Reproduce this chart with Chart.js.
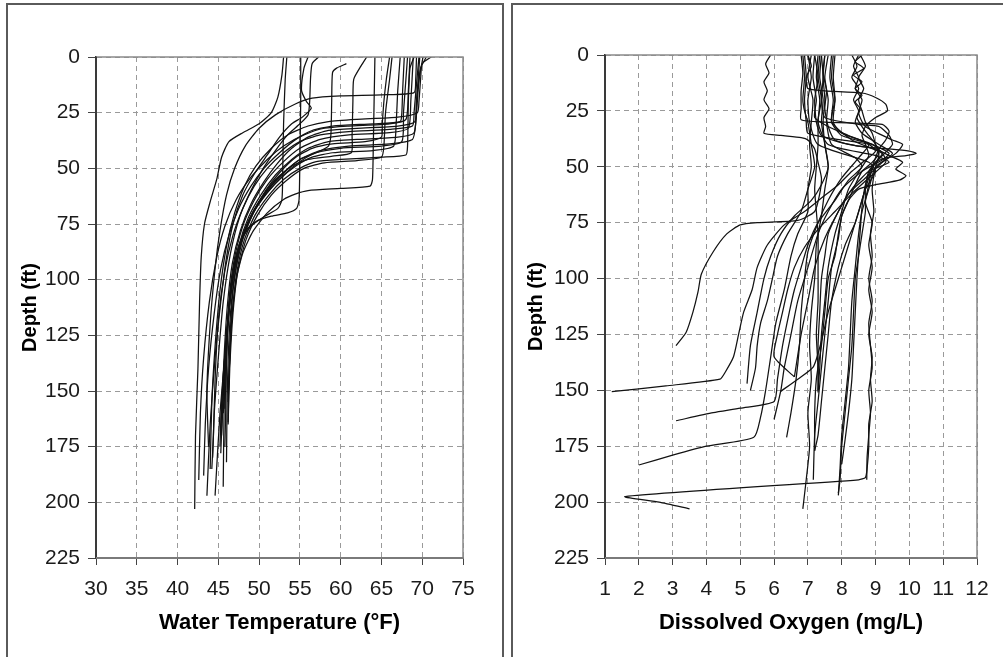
<!DOCTYPE html>
<html>
<head>
<meta charset="utf-8">
<script src="https://cdn.jsdelivr.net/npm/chart.js@4/dist/chart.umd.min.js"></script>
<style>
  html, body { margin: 0; padding: 0; background: #ffffff; width: 1003px; height: 657px; overflow: hidden; }
  .frame { position: absolute; border: 2px solid #5a5a5a; box-sizing: border-box; }
  .wrap { position: absolute; }
</style>
</head>
<body>
<div class="frame" style="left:6px; top:3px; width:498px; height:720px;"></div>
<div class="frame" style="left:511px; top:3px; width:560px; height:720px;"></div>
<div class="wrap" style="left:8px; top:5px; width:494px; height:650px;"><canvas id="tempChart" width="494" height="650"></canvas></div>
<div class="wrap" style="left:514px; top:5px; width:489px; height:650px;"><canvas id="doChart" width="489" height="650"></canvas></div>
<script>
// ---------- Axis settings (values) ----------
const depthMin = 0, depthMax = 225, depthStep = 25;
const tempMin = 30, tempMax = 75, tempStep = 5;
const doMin = 1, doMax = 12, doStep = 1;
const tempAxisTitle = "Water Temperature (°F)";
const doAxisTitle = "Dissolved Oxygen (mg/L)";
const depthAxisTitle = "Depth (ft)";

// ---------- Water temperature profiles: [depth ft, temperature °F] ----------
const tp01 = [[0,53.0],[8,52.8],[18,52.3],[25,51.5],[30,50],[34,48],[38,46.3],[45,45.4],[55,44.8],[65,44],[75,43.3],[90,42.9],[110,42.7],[140,42.5],[170,42.2],[203,42.1]];
const tp02 = [[0,53.4],[10,53.2],[30,53.0],[50,52.9],[64,52.8],[68,52.3],[72,50.5],[76,49],[82,47.8],[92,47],[108,46.4],[130,45.9],[160,45.2],[197,44.6]];
const tp03 = [[0,55.1],[20,55.1],[45,55.0],[64,54.9],[68,54.6],[70,53.5],[71.5,51.5],[73.5,49.8],[77,48.6],[84,47.6],[95,46.9],[112,46.3],[135,45.9],[160,45.7],[193,45.6]];
const tp04 = [[0,56.0],[5,55.5],[15,55.2],[20,55.8],[23,56.4],[27,55.3],[30,54],[36,52.5],[44,51],[52,49.5],[62,48],[75,46.8],[90,46],[110,45.3],[135,44.6],[165,44],[197,43.6]];
const tp05 = [[0,57.3],[3,56.5],[10,56.3],[20,56.2],[26,56],[30,55],[35,53.5],[42,52],[50,50.5],[60,49],[72,47.6],[88,46.5],[110,45.6],[135,45],[160,44.5],[180,44.3]];
const tp06 = [[3,60.7],[5,59.5],[7,59.0],[20,58.9],[35,58.8],[40,58.5],[43,57],[46,55],[52,53],[60,51],[70,49.2],[82,47.8],[100,46.8],[125,46],[155,45.4],[175,45.2]];
const tp07 = [[0,63.2],[4,62.5],[10,61.6],[20,61.5],[35,61.4],[43,61.3],[44.5,59],[46,56],[49,54],[55,52],[63,50.3],[73,48.8],[86,47.6],[105,46.8],[130,46.4],[164,46.2]];
const tp08 = [[0,64.2],[20,64.1],[40,64.0],[55,63.9],[58,63.6],[59,60],[60,56],[61.5,54.5],[64,53],[70,51],[78,49.3],[88,48],[100,47.2],[120,46.6],[135,46.4],[151,46.2]];
const tp09 = [[0,66.0],[10,65.6],[20,65.3],[30,65.1],[36,65.0],[38,63],[39,59],[41,56.5],[45,54.5],[52,52.5],[60,50.8],[70,49.3],[82,48],[98,47],[120,46.4],[150,46.1],[182,46.0]];
const tp10 = [[0,67.3],[15,67],[30,66.8],[40,66.5],[42,64],[43,59],[45,56.5],[49,54.5],[55,52.5],[63,50.5],[73,48.8],[86,47.5],[102,46.6],[125,46],[150,45.6],[178,45.3]];
const tp11 = [[0,67.8],[15,67.6],[25,67.5],[29,67.3],[30,64],[31,59],[33,56.5],[37,54.5],[43,52.5],[50,50.6],[58,49],[68,47.5],[80,46.3],[95,45.3],[115,44.5],[140,43.8],[165,43.4],[188,43.2]];
const tp12 = [[0,68.5],[15,68.3],[28,68],[30,66],[31,61],[32,58],[35,55.5],[40,53],[46,51],[54,49],[64,47.2],[76,45.8],[90,44.8],[110,43.9],[135,43.2],[160,42.8],[190,42.6]];
const tp13 = [[0,68.9],[20,68.6],[32,68.3],[34,66],[35,61],[37,57.5],[41,55],[47,53],[55,51],[65,49.3],[77,47.9],[92,46.9],[110,46.3],[135,46],[160,45.9],[175,45.8]];
const tp14 = [[0,69.3],[10,69.2],[16,69],[17,65],[17.5,60],[18.5,56.5],[21,54.5],[26,52],[32,50],[40,48.3],[50,47],[62,46],[78,45.2],[95,44.6],[120,44.0],[150,43.6],[175,43.8]];
const tp15 = [[0,69.7],[10,69.5],[20,69.3],[29,69.1],[31,67],[32,62],[33,58.5],[36,56],[41,54],[48,52.2],[56,50.6],[66,49],[78,47.7],[93,46.7],[112,46.1],[135,45.7],[168,45.3]];
const tp16 = [[0,70.1],[10,69.6],[20,69.3],[34,69],[36,67],[37,62],[38,58.5],[41,56],[46,54],[53,52],[62,50.2],[72,48.7],[85,47.5],[100,46.7],[125,46.1],[160,45.6]];
const tp17 = [[0,70.5],[5,69.8],[15,69.5],[30,69.2],[37,68.8],[39,66],[40,61],[42,57.5],[46,55],[52,53],[60,51],[70,49.2],[82,47.8],[98,46.8],[120,46.2],[158,45.8]];
const tp18 = [[0,71.1],[3,70],[10,69.8],[20,69.6],[25,69.4],[27,67],[28,62],[29,58.5],[31,56],[35,53.5],[41,51.5],[49,49.6],[58,48.2],[70,47],[85,46],[105,45.2],[130,44.6],[155,44.2],[185,44.0]];
const tp19 = [[0,69],[5,68.5],[20,68.3],[40,68.2],[44,68],[45,65],[46,60],[47,57],[50,55],[55,53],[62,51.2],[71,49.5],[82,48.2],[96,47.3],[115,46.7],[135,46.4],[155,46.2]];
const tp20 = [[0,66.3],[10,66],[25,65.5],[40,65.3],[45,65],[46.5,62],[47.5,58],[50,55.5],[55,53.5],[62,51.5],[71,49.8],[82,48.4],[96,47.4],[115,46.8],[140,46.4],[165,46.2]];
const tp21 = [[0,69.6],[12,69.3],[25,69.0],[31,68.8],[32.5,66],[33.5,61],[35,57.5],[38,55],[43,53],[50,51],[58,49.4],[68,48],[80,46.8],[96,45.8],[118,45.0],[145,44.6],[170,44.4],[185,44.2]];
const tp22 = [[0,68.2],[10,68],[25,67.7],[38,67.5],[40,65],[41,60],[43,57],[47,55],[53,53],[61,51],[70,49.3],[82,47.9],[97,46.9],[118,46.2],[145,45.7],[170,45.4]];

// ---------- Dissolved oxygen profiles: [depth ft, DO mg/L] ----------
const do01 = [[0,5.9],[4,5.75],[8,5.85],[12,5.7],[16,5.8],[20,5.7],[24,5.85],[28,5.7],[32,5.75],[35,5.7],[36,6.2],[37,6.8],[38,7.0],[42,7.2],[48,7.3],[55,7.4],[62,7.35],[70,7.2],[74,6.7],[75,5.5],[76,5.0],[80,4.6],[88,4.2],[98,3.85],[106,3.75],[115,3.6],[124,3.4],[130,3.1]];
const do02 = [[0,6.8],[8,6.85],[16,6.8],[24,6.8],[29,6.8],[30,7.5],[30.5,8.5],[31,9.2],[34,9.4],[38,9.3],[42,9.1],[46,9.0],[50,8.9],[58,8.8],[66,8.7],[75,8.9],[85,8.8],[95,8.9],[105,8.8],[115,8.9],[125,8.8],[135,8.9],[145,8.85],[155,8.9],[165,8.8],[175,8.8],[185,8.75],[189,8.7],[190,8.5],[197.5,1.6],[200,2.6],[203,3.5]];
const do03 = [[0,7.0],[5,7.1],[10,6.95],[15,7.0],[16,7.5],[17,8.6],[19,9.0],[22,9.3],[25,9.35],[28,9.0],[32,8.7],[36,8.6],[40,8.7],[45,8.8],[50,8.6],[60,8.2],[70,8.0],[80,7.8],[95,7.6],[110,7.5],[125,7.4],[140,7.35],[150,7.3]];
const do04 = [[0,7.3],[10,7.25],[20,7.35],[30,7.3],[40,7.3],[50,7.25],[60,7.2],[70,7.25],[80,7.3],[95,7.3],[110,7.3],[125,7.25],[140,7.3],[151,7.3]];
const do05 = [[0,8.6],[3,8.4],[6,8.65],[9,8.35],[12,8.6],[15,8.4],[18,8.6],[21,8.4],[24,8.55],[28,8.45],[32,8.6],[36,8.8],[40,9.0],[44,9.1],[48,8.9],[52,8.6],[58,8.4],[65,8.2],[72,8.0],[80,7.9],[90,7.8],[100,7.6],[115,7.5],[130,7.4],[145,7.25],[160,7.2],[177,7.2]];
const do06 = [[0,7.5],[8,7.45],[16,7.55],[24,7.5],[32,7.6],[38,7.8],[41,8.6],[42,9.4],[43,10.0],[44,10.2],[45,9.9],[46,9.3],[48,9.0],[52,8.8],[60,8.7],[70,8.7],[80,8.6],[90,8.5],[100,8.4],[115,8.35],[130,8.3],[145,8.2],[160,8.1],[175,8.0],[190,7.95],[196,7.9]];
const do07 = [[0,7.2],[10,7.3],[20,7.2],[30,7.25],[36,7.4],[40,8.2],[42,9.0],[45,9.4],[48,9.8],[51,9.6],[54,9.9],[56,9.7],[58,9.0],[60,8.5],[65,8.2],[72,8.0],[82,7.9],[95,7.7],[110,7.6],[125,7.5],[140,7.4],[155,7.3],[170,7.2],[190,7.16]];
const do08 = [[0,6.9],[10,6.95],[20,6.9],[30,6.95],[35,7.0],[38,8.0],[40,8.8],[43,9.0],[47,8.7],[52,8.3],[58,7.9],[64,7.4],[70,6.9],[76,6.3],[85,5.8],[95,5.5],[105,5.35],[115,5.1],[125,4.95],[135,4.8],[142,4.55],[145,4.4],[148,2.8],[150.6,1.2]];
const do09 = [[0,7.6],[10,7.5],[20,7.6],[30,7.55],[40,7.7],[46,8.4],[50,8.6],[56,8.2],[65,7.8],[75,7.3],[85,7.0],[95,6.8],[105,6.6],[115,6.45],[130,6.25],[145,6.1],[155,6.0],[158,5.0],[160,4.2],[163.6,3.1]];
const do10 = [[0,7.1],[10,7.0],[20,7.15],[30,7.1],[40,7.05],[50,7.1],[60,7.0],[70,7.0],[80,6.7],[90,6.5],[105,6.3],[120,6.05],[135,5.9],[150,5.75],[162,5.6],[171,5.4],[175,4.0],[179,3.0],[183.4,2.0]];
const do11 = [[0,7.4],[10,7.35],[20,7.45],[30,7.4],[40,7.5],[50,7.6],[58,7.4],[65,7.1],[72,6.6],[80,6.2],[90,5.9],[100,5.7],[115,5.5],[130,5.3],[147,5.2]];
const do12 = [[0,7.7],[10,7.65],[20,7.75],[30,7.7],[36,8.0],[40,8.9],[44,9.4],[47,9.2],[52,8.6],[60,8.0],[70,7.6],[80,7.3],[95,7.0],[110,6.7],[125,6.5],[140,6.3],[150,6.2],[163,6.0]];
const do13 = [[0,7.0],[10,7.1],[20,7.0],[30,7.05],[40,7.3],[48,8.8],[52,9.0],[60,8.7],[70,8.5],[80,8.3],[90,8.1],[100,7.9],[115,7.6],[128,7.4],[139.5,7.16],[145,6.7],[150.6,6.18]];
const do14 = [[0,7.2],[10,7.15],[20,7.25],[28,7.2],[32,7.6],[36,8.2],[40,8.8],[46,8.5],[55,8.0],[65,7.6],[75,7.3],[88,7.0],[100,6.9],[115,6.8],[130,6.75],[145,6.65],[160,6.5],[171,6.37]];
const do15 = [[0,7.35],[10,7.3],[20,7.4],[30,7.3],[40,7.6],[45,9.0],[48,9.4],[52,8.8],[60,8.3],[70,7.9],[82,7.5],[95,7.2],[110,7.0],[125,6.8],[144,6.6]];
const do16 = [[0,7.5],[10,7.45],[20,7.5],[30,7.45],[40,7.5],[50,7.6],[60,7.5],[72,7.4],[85,7.25],[100,7.2],[115,7.1],[130,7.05],[145,7.1],[160,7.0],[175,7.05],[190,6.95],[203,6.85]];
const do17 = [[0,7.75],[10,7.7],[20,7.8],[30,7.75],[35,8.0],[40,8.9],[44,9.2],[48,9.0],[55,8.8],[65,8.6],[75,8.4],[85,8.1],[95,7.9],[110,7.7],[125,7.6],[140,7.5],[155,7.4],[170,7.3],[177,7.2]];
const do18 = [[0,8.3],[5,8.45],[10,8.3],[15,8.5],[20,8.35],[25,8.5],[30,8.4],[35,8.6],[40,9.1],[44,9.5],[48,9.2],[55,8.7],[62,8.2],[70,7.9],[80,7.6],[90,7.5],[100,7.4],[115,7.35],[130,7.3],[150,7.31]];
const do19 = [[0,8.5],[5,8.35],[10,8.5],[15,8.4],[20,8.6],[26,8.5],[32,8.7],[38,9.5],[40,9.8],[44,9.6],[50,9.0],[60,8.8],[70,8.6],[80,8.5],[95,8.4],[110,8.3],[125,8.25],[140,8.2],[155,8.1],[170,8.0],[185,7.95],[197,7.9]];
const do20 = [[0,7.4],[10,7.45],[20,7.4],[28,7.5],[31,8.5],[32,9.1],[36,9.4],[40,9.5],[45,9.2],[50,8.9],[58,8.7],[68,8.6],[78,8.55],[88,8.5],[100,8.45],[115,8.4],[130,8.35],[145,8.3],[160,8.2],[172,8.1],[183,8.0]];
const do21 = [[0,8.55],[5,8.7],[10,8.5],[15,8.65],[20,8.5],[25,8.6],[30,8.7],[35,8.9],[40,9.0],[45,9.1],[50,9.0],[60,8.9],[70,8.95],[80,8.85],[90,8.9],[100,8.8],[110,8.9],[120,8.8],[130,8.85],[140,8.9],[150,8.8],[160,8.85],[170,8.8],[180,8.75],[190,8.74]];
const do22 = [[0,7.8],[10,7.75],[20,7.8],[30,7.7],[38,8.3],[44,9.2],[48,9.3],[55,8.8],[62,8.3],[70,7.8],[78,7.3],[86,6.9],[95,6.6],[105,6.4],[115,6.25],[125,6.1],[135,6.0],[144,6.6]];
const do23 = [[0,6.85],[10,6.9],[20,6.85],[25,6.9],[30,7.0],[40,7.1],[50,7.2],[60,7.0],[70,6.8],[80,6.4],[90,6.1],[100,5.95],[110,5.8],[120,5.6],[130,5.5],[140,5.45],[150,5.3]];

const tempProfiles = [tp01,tp02,tp03,tp04,tp05,tp06,tp07,tp08,tp09,tp10,tp11,tp12,tp13,tp14,tp15,tp16,tp17,tp18,tp19,tp20,tp21,tp22];
const doProfiles = [do01,do02,do03,do04,do05,do06,do07,do08,do09,do10,do11,do12,do13,do14,do15,do16,do17,do18,do19,do20,do21,do22,do23];

// ---------- Chart construction ----------
const FONT = "'Liberation Sans', Arial, Helvetica, sans-serif";

const plotFrame = {
  id: 'plotFrame',
  afterDraw(chart) {
    const {ctx, chartArea: a} = chart;
    ctx.save();
    ctx.strokeStyle = '#8a8a8a';
    ctx.lineWidth = 1.5;
    ctx.beginPath();
    ctx.moveTo(a.left, a.top); ctx.lineTo(a.right, a.top); ctx.lineTo(a.right, a.bottom);
    ctx.stroke();
    ctx.strokeStyle = '#3a3a3a';
    ctx.lineWidth = 2;
    ctx.beginPath();
    ctx.moveTo(a.left, a.top); ctx.lineTo(a.left, a.bottom);
    ctx.stroke();
    ctx.strokeStyle = '#7a7a7a';
    ctx.beginPath();
    ctx.moveTo(a.left, a.bottom); ctx.lineTo(a.right, a.bottom);
    ctx.stroke();
    ctx.restore();
  }
};

function makeChart(id, profiles, xMin, xMax, xStep, xTitle, yWidth, areaTop, areaBottom, rightPad, canvasH) {
  const datasets = profiles.map(p => ({
    data: p.map(([d, v]) => ({x: v, y: d})),
    showLine: true,
    borderColor: '#121212',
    borderWidth: 1.25,
    pointRadius: 0,
    pointHoverRadius: 0,
    tension: 0.2,
    fill: false
  }));
  return new Chart(document.getElementById(id), {
    type: 'scatter',
    data: {datasets},
    plugins: [plotFrame],
    options: {
      responsive: false,
      animation: false,
      devicePixelRatio: 1,
      layout: {padding: {left: 0, top: areaTop, right: rightPad, bottom: 0}},
      plugins: {legend: {display: false}, tooltip: {enabled: false}, title: {display: false}},
      scales: {
        x: {
          type: 'linear', position: 'bottom',
          min: xMin, max: xMax,
          ticks: {stepSize: xStep, color: '#1a1a1a', font: {family: FONT, size: 21}, padding: 12, maxRotation: 0, autoSkip: false},
          grid: {color: '#9a9a9a', lineWidth: 1, tickLength: 7, tickColor: '#444', drawTicks: true},
          border: {display: true, color: '#7a7a7a', width: 2, dash: [5, 4]},
          title: {display: true, text: xTitle, color: '#000', font: {family: FONT, size: 22, weight: 'bold'}, padding: {top: 0, bottom: 19}},
          afterFit(scale) { scale.height = canvasH - areaBottom; }
        },
        y: {
          type: 'linear', position: 'left', reverse: true,
          min: depthMin, max: depthMax,
          ticks: {stepSize: depthStep, color: '#1a1a1a', font: {family: FONT, size: 21}, padding: 8, autoSkip: false},
          grid: {color: '#9a9a9a', lineWidth: 1, tickLength: 8, tickColor: '#444', drawTicks: true},
          border: {display: true, color: '#3a3a3a', width: 2, dash: [5, 4]},
          title: {display: true, text: depthAxisTitle, color: '#000', font: {family: FONT, size: 20, weight: 'bold'}, padding: {top: 10, bottom: 0}},
          afterFit(scale) { scale.width = yWidth; }
        }
      }
    }
  });
}

makeChart('tempChart', tempProfiles, tempMin, tempMax, tempStep, tempAxisTitle, 88, 52, 553, 39, 650);
makeChart('doChart', doProfiles, doMin, doMax, doStep, doAxisTitle, 91, 50, 553, 26, 650);
</script>
</body>
</html>
